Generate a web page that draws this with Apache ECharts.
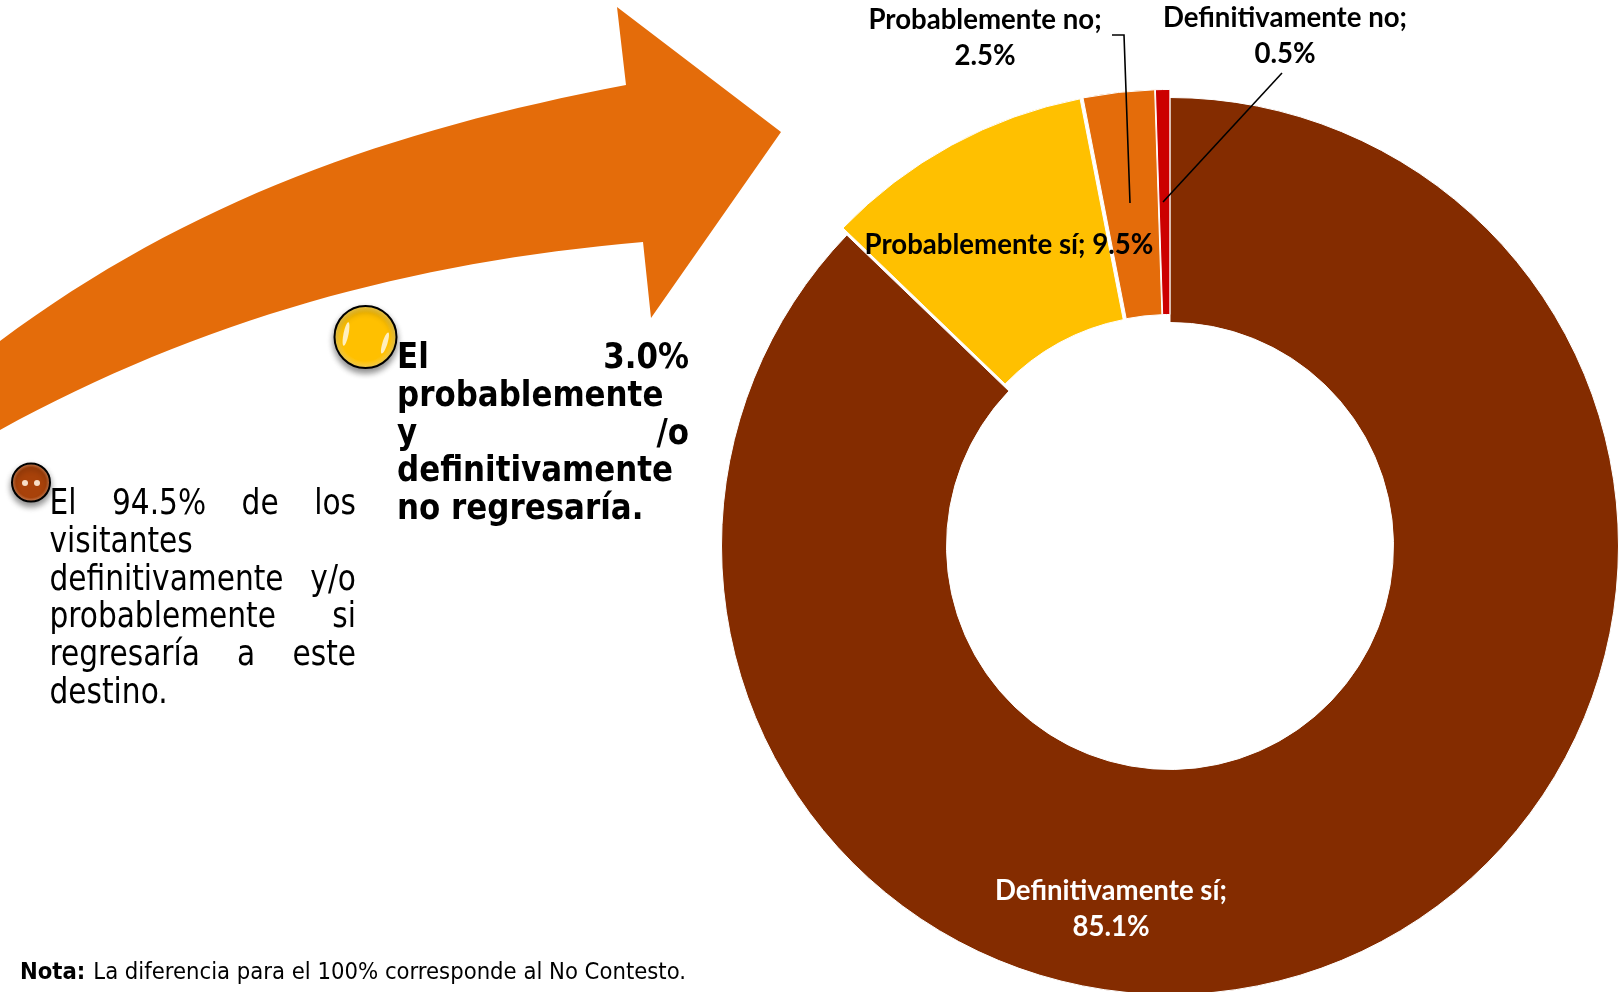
<!DOCTYPE html>
<html>
<head>
<meta charset="utf-8">
<style>
  html, body { margin: 0; padding: 0; background: #fff; }
  #chart { width: 1619px; height: 992px; }
</style>
<script src="https://cdn.jsdelivr.net/npm/echarts@6/dist/echarts.min.js"></script>
</head>
<body>
<div id="chart"></div>
<script>
const categories = ['Definitivamente sí', 'Probablemente sí', 'Probablemente no', 'Definitivamente no']
const values = [85.1, 9.5, 2.5, 0.5]
const sliceColors = ['#842C00', '#FFC000', '#E46C0A', '#CC0000']
const labelColors = ['#ffffff', '#000000', '#000000', '#000000']
const labelSeparators = ['\n', ' ', '\n', '\n']
const labelSpots = [[1111, 909], [1009, 245], [985, 38], [1285, 36]]

const sideTextRegular = ['El 94.5% de los', 'visitantes', 'definitivamente y/o', 'probablemente si', 'regresaría a este', 'destino.']
const sideTextBold = ['El 3.0%', 'probablemente', 'y /o', 'definitivamente', 'no regresaría.']
const justifiedRegular = [true, false, true, true, true, false]
const justifiedBold = [true, false, true, false, false]
const noteBold = 'Nota:'
const noteText = 'La diferencia para el 100% corresponde al No Contesto.'

const bodyFont = '"DejaVu Sans Condensed", "DejaVu Sans", sans-serif'
const labelFont = 'Lato, "Noto Sans", sans-serif'

const measure = document.createElement('canvas').getContext('2d')

// one text element per word, so the justified lines spread out like the original
function textBlock(lines, justified, opts) {
  const font = `${opts.weight} ${opts.size}px ${bodyFont}`
  measure.font = font
  const out = []
  lines.forEach((line, i) => {
    const y = opts.top + i * opts.step
    const words = line.split(' ')
    const widths = words.map((w) => measure.measureText(w).width * opts.squeeze)
    const used = widths.reduce((a, b) => a + b, 0)
    const gap = justified[i] && words.length > 1
      ? (opts.right - opts.left - used) / (words.length - 1)
      : opts.size * 0.3
    let x = opts.left
    words.forEach((w, j) => {
      out.push({
        type: 'text',
        x: x,
        y: y,
        scaleX: opts.squeeze,
        z: 10,
        style: { text: w, font: font, fill: '#000', verticalAlign: 'middle' }
      })
      x += widths[j] + gap
    })
  })
  return out
}

function ball(cx, cy, r, base, deep, extras) {
  return [
    {
      type: 'circle',
      z: 5,
      shape: { cx: cx, cy: cy, r: r },
      style: {
        fill: {
          type: 'radial', x: 0.5, y: 0.5, r: 0.5,
          colorStops: [{ offset: 0, color: base }, { offset: 0.75, color: base }, { offset: 1, color: deep }]
        },
        stroke: '#000',
        lineWidth: 2,
        shadowBlur: 6,
        shadowOffsetY: 4,
        shadowColor: 'rgba(0,0,0,0.45)'
      }
    }
  ].concat(extras)
}

// graphic type 'path' throws here, so the arrow goes in as a registered shape
echarts.graphic.registerShape('curvedArrow', echarts.graphic.extendShape({
  buildPath(ctx) {
    ctx.moveTo(0, 341)
    ctx.bezierCurveTo(190, 200, 390, 130, 626, 85)
    ctx.lineTo(617, 7)
    ctx.lineTo(781, 132)
    ctx.lineTo(651, 318)
    ctx.lineTo(643, 242)
    ctx.bezierCurveTo(410, 262, 200, 320, 0, 430)
    ctx.closePath()
  }
}))

const arrow = {
  type: 'curvedArrow',
  z: 1,
  style: { fill: '#E46C0A' }
}

const leaders = [
  [[1112, 35], [1124, 35], [1130, 203]],
  [[1282, 73], [1163, 202]]
].map((pts) => ({
  type: 'polyline',
  z: 20,
  shape: { points: pts },
  style: { stroke: '#000', lineWidth: 1.6, fill: null }
}))

const yellowBall = ball(365.5, 337, 31, '#FFC000', '#F7D560', [
  { type: 'ellipse', z: 6, rotation: -0.2, originX: 346, originY: 334, shape: { cx: 346, cy: 334, rx: 2.5, ry: 12 }, style: { fill: 'rgba(255,255,255,0.75)' } },
  { type: 'ellipse', z: 6, rotation: -0.3, originX: 385, originY: 343, shape: { cx: 385, cy: 343, rx: 2.5, ry: 11 }, style: { fill: 'rgba(255,255,255,0.75)' } }
])
const brownBall = ball(31, 482.5, 19, '#A8420A', '#D9946A', [
  { type: 'circle', z: 6, shape: { cx: 25, cy: 483, r: 3 }, style: { fill: 'rgba(255,240,220,0.9)' } },
  { type: 'circle', z: 6, shape: { cx: 37, cy: 483, r: 3 }, style: { fill: 'rgba(255,240,220,0.9)' } }
])

const note = {
  type: 'text',
  x: 20,
  y: 973,
  z: 10,
  style: {
    text: `{b|${noteBold}}{r|${noteText}}`,
    verticalAlign: 'middle',
    rich: {
      b: { font: `bold 23.6px ${bodyFont}`, fill: '#000', padding: [0, 8, 0, 0] },
      r: { font: `23.6px ${bodyFont}`, fill: '#000' }
    }
  }
}

const chart = echarts.init(document.getElementById('chart'))

const pieCenter = [1170, 546]
const pieRadius = [223.5, 448.5]

const option = {
  backgroundColor: '#ffffff',
  animation: false,
  graphic: {
    elements: [arrow].concat(
      yellowBall,
      brownBall,
      textBlock(sideTextRegular, justifiedRegular, { weight: 'normal', size: 36, squeeze: 0.915, left: 49.5, right: 356, top: 505, step: 37.7 }),
      textBlock(sideTextBold, justifiedBold, { weight: 'bold', size: 36, squeeze: 0.955, left: 397, right: 689, top: 359, step: 37.7 }),
      [note],
      leaders
    )
  },
  series: [
    {
      type: 'pie',
      center: pieCenter,
      radius: pieRadius,
      startAngle: 90,
      clockwise: true,
      selectedMode: 'multiple',
      selectedOffset: 8,
      silent: true,
      itemStyle: { borderColor: '#ffffff', borderWidth: 1 },
      label: { show: false },
      labelLine: { show: false },
      data: categories.map((name, i) => ({
        name: name,
        value: values[i],
        selected: i > 0,
        itemStyle: { color: sliceColors[i] }
      }))
    },
    // same slices without colour: selected slices ignore labelLayout, so the labels live here
    {
      type: 'pie',
      center: pieCenter,
      radius: pieRadius,
      startAngle: 90,
      clockwise: true,
      silent: true,
      z: 5,
      itemStyle: { color: 'rgba(0,0,0,0)', borderWidth: 0 },
      label: {
        show: true,
        position: 'inside',
        fontFamily: labelFont,
        fontWeight: 'bold',
        fontSize: 27.6,
        lineHeight: 36
      },
      labelLine: { show: false },
      labelLayout: (params) => ({
        x: labelSpots[params.dataIndex][0],
        y: labelSpots[params.dataIndex][1],
        align: 'center',
        verticalAlign: 'middle'
      }),
      data: categories.map((name, i) => ({
        name: name,
        value: values[i],
        label: {
          color: labelColors[i],
          formatter: `${name};${labelSeparators[i]}${values[i].toFixed(1)}%`
        }
      }))
    }
  ]
}

chart.setOption(option)
</script>
</body>
</html>
